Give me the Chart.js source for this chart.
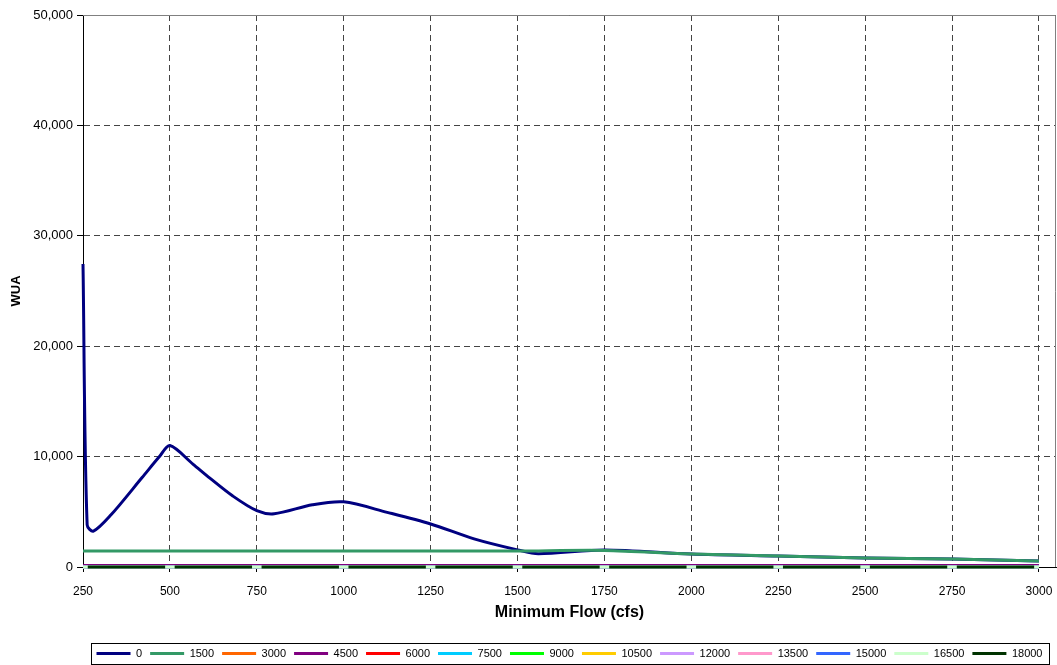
<!DOCTYPE html>
<html>
<head>
<meta charset="utf-8">
<script src="https://cdn.jsdelivr.net/npm/chart.js@4.4.0/dist/chart.umd.min.js"></script>
<style>
  html, body { margin: 0; padding: 0; background: #fff; }
  #wrap { width: 1057px; height: 665px; }
</style>
</head>
<body>
<div id="wrap"><canvas id="wuaChart" width="1057" height="665"></canvas></div>
<script>
// Data
const flowTicks = [250, 500, 750, 1000, 1250, 1500, 1750, 2000, 2250, 2500, 2750, 3000];
const yTicks = [0, 10000, 20000, 30000, 40000, 50000];

// series "0"
const flow0 = [250, 262, 280, 330, 420, 470, 500, 567, 615, 680, 750, 800, 910, 1000, 1125, 1250, 1375, 1500, 1560, 1750, 2000, 2250, 2500, 2750, 3000];
const wua0  = [27450, 3800, 3250, 4700, 8100, 10000, 11000, 9300, 8050, 6450, 5100, 4820, 5640, 5900, 4950, 3900, 2550, 1550, 1200, 1550, 1180, 1000, 820, 730, 550];

// series "1500"
const wua1500 = [1450, 1450, 1450, 1450, 1450, 1450, 1500, 1180, 1000, 820, 730, 550];
// series "4500" sits just above zero
const wua4500 = [200, 200, 200, 200, 200, 200, 200, 200, 200, 200, 200, 200];
// every other series is zero
const wuaZero = [0, 0, 0, 0, 0, 0, 0, 0, 0, 0, 0, 0];

const seriesNames  = ['0', '1500', '3000', '4500', '6000', '7500', '9000', '10500', '12000', '13500', '15000', '16500', '18000'];
const seriesColors = ['#000080', '#339966', '#ff6600', '#800080', '#ff0000', '#00ccff', '#00ff00', '#ffcc00', '#cc99ff', '#ff99cc', '#3366ff', '#ccffcc', '#003300'];

const FONT = '"Liberation Sans", Arial, sans-serif';

function pts(xs, ys) {
    return xs.map((x, i) => ({ x: x, y: ys[i] }));
}

const datasets = seriesNames.map((name, i) => {
    let data;
    if (name === '0') data = pts(flow0, wua0);
    else if (name === '1500') data = pts(flowTicks, wua1500);
    else if (name === '4500') data = pts(flowTicks, wua4500);
    else data = pts(flowTicks, wuaZero);
    const ds = {
        label: name,
        data: data,
        borderColor: seriesColors[i],
        backgroundColor: seriesColors[i],
        borderWidth: name === '4500' ? 1.5 : 3,
        pointRadius: 0,
        tension: 0.3,
        fill: false,
        clip: 4,
        order: seriesNames.length - i   // later series on top, like the original
    };
    if (name === '18000') {
        ds.borderDash = [76.9, 10];
        ds.borderDashOffset = 81.9;
    }
    return ds;
});

// grey frame on top/right of plot area
const frame = {
    id: 'frame',
    afterDatasetsDraw(chart) {
        const a = chart.chartArea;
        const ctx = chart.ctx;
        ctx.save();
        ctx.strokeStyle = '#808080';
        ctx.lineWidth = 1;
        ctx.beginPath();
        ctx.moveTo(a.left, a.top + 0.5);
        ctx.lineTo(a.right - 0.5, a.top + 0.5);
        ctx.lineTo(a.right - 0.5, a.bottom);
        ctx.stroke();
        ctx.restore();
    }
};

// box around the legend
const legendBox = {
    id: 'legendBox',
    afterDraw(chart) {
        const hb = chart.legend.legendHitBoxes;
        if (!hb || !hb.length) return;
        const left = Math.min(...hb.map(h => h.left)) - 6;
        const right = Math.max(...hb.map(h => h.left + h.width)) + 6;
        const top = hb[0].top - 5;
        const bottom = hb[0].top + hb[0].height + 5;
        const ctx = chart.ctx;
        ctx.save();
        ctx.strokeStyle = '#000';
        ctx.lineWidth = 1;
        ctx.strokeRect(Math.round(left) + 0.5, Math.round(top) + 0.5, Math.round(right - left), Math.round(bottom - top));
        ctx.restore();
    }
};

new Chart(document.getElementById('wuaChart'), {
    type: 'line',
    data: { datasets: datasets },
    options: {
        responsive: false,
        animation: false,
        events: [],
        layout: { padding: { top: 15, right: 1, left: 0, bottom: -4 } },
        plugins: {
            tooltip: { enabled: false },
            legend: {
                position: 'bottom',
                fullSize: false,
                labels: {
                    boxWidth: 34,
                    boxHeight: 3,
                    padding: 8,
                    color: '#000',
                    font: { family: FONT, size: 11 },
                    sort: (a, b) => a.datasetIndex - b.datasetIndex,
                    generateLabels: chart => Chart.defaults.plugins.legend.labels.generateLabels(chart)
                        .map(l => Object.assign(l, { lineWidth: 0 }))
                }
            }
        },
        scales: {
            x: {
                type: 'linear',
                min: 250,
                max: 3049,
                afterBuildTicks: s => { s.ticks = flowTicks.map(v => ({ value: v })); },
                afterFit: s => { s.height = 73; s.paddingLeft = 0; s.paddingRight = 0; },
                ticks: {
                    color: '#000',
                    font: { family: FONT, size: 12 },
                    padding: 12,
                    maxRotation: 0,
                    callback: v => String(v)
                },
                grid: { color: '#444', lineWidth: 1, tickColor: '#000', tickLength: 5 },
                border: { color: '#000', dash: [6, 4] },
                title: {
                    display: true,
                    text: 'Minimum Flow (cfs)',
                    color: '#000',
                    font: { family: FONT, size: 16, weight: 'bold' },
                    padding: { top: 4, bottom: 18 }
                }
            },
            y: {
                min: 0,
                max: 50000,
                afterBuildTicks: s => { s.ticks = yTicks.map(v => ({ value: v })); },
                afterFit: s => { s.width = 83; },
                ticks: {
                    color: '#000',
                    font: { family: FONT, size: 13 },
                    padding: 4,
                    callback: v => v.toLocaleString('en-US')
                },
                grid: { color: '#444', lineWidth: 1, tickColor: '#000', tickLength: 6 },
                border: { color: '#000', dash: [6, 4] },
                title: {
                    display: true,
                    text: 'WUA',
                    color: '#000',
                    font: { family: FONT, size: 13, weight: 'bold' },
                    padding: { top: 9, bottom: 4 }
                }
            }
        }
    },
    plugins: [frame, legendBox]
});
</script>
</body>
</html>
